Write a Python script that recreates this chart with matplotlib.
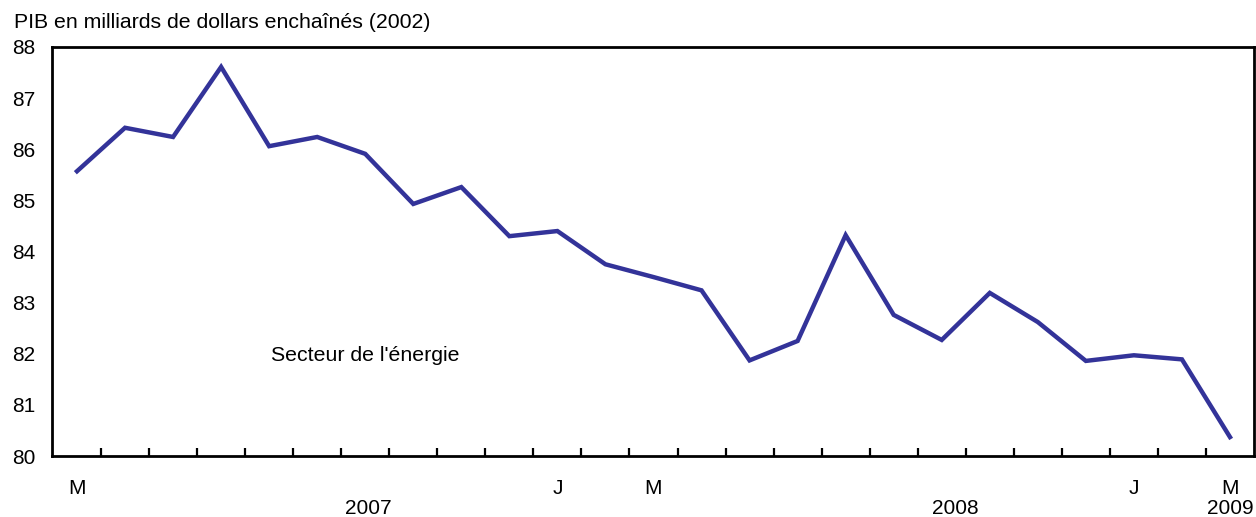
import matplotlib
matplotlib.use("Agg")
import matplotlib.pyplot as plt
import numpy as np

plt.rcParams['font.family'] = ['Liberation Sans', 'DejaVu Sans']

values = [85.57, 86.42, 86.24, 87.61, 86.06, 86.24, 85.91, 84.93, 85.26, 84.30,
          84.40, 83.75, 83.50, 83.24, 81.87, 82.25, 84.32, 82.76, 82.27, 83.19,
          82.62, 81.86, 81.97, 81.89, 80.37]
month_labels = {0: 'M', 10: 'J', 12: 'M', 22: 'J', 24: 'M'}
year_labels = {6.06: '2007', 18.28: '2008', 24.0: '2009'}
y_ticks = [80, 81, 82, 83, 84, 85, 86, 87, 88]
ylabel = "PIB en milliards de dollars enchaînés (2002)"
series_label = "Secteur de l'énergie"

FS = 15

fig = plt.figure(figsize=(12.56, 5.17), dpi=100)
ax = fig.add_axes([52/1256, 1-456/517, (1254-52)/1256, (456-47)/517])

x = np.arange(len(values))
ax.plot(x, values, color='#333399', lw=3.2, solid_joinstyle='miter')
ax.set_xlim(-0.52, 24.5)
ax.set_ylim(80, 88)

for s in ax.spines.values():
    s.set_linewidth(2.0)
    s.set_color('black')

ax.set_yticks(y_ticks)
ax.set_yticklabels([str(v) for v in y_ticks], fontsize=FS)
ax.tick_params(axis='y', length=0, pad=12)
ax.set_xticks(np.arange(0.5, 24, 1))
ax.set_xticklabels([])
ax.tick_params(axis='x', direction='in', length=5.5, width=1.6)

for i, lab in month_labels.items():
    ax.text(i, -0.093, lab, transform=ax.get_xaxis_transform(), ha='center', va='baseline', fontsize=FS)
for i, lab in year_labels.items():
    ax.text(i, -0.142, lab, transform=ax.get_xaxis_transform(), ha='center', va='baseline', fontsize=FS)

fig.text(14/1256, 1-22/517, ylabel, ha='left', va='center', fontsize=15.3)
ax.text(6.0, 81.97, series_label, ha='center', va='center', fontsize=15.3)

fig.savefig('out.png', dpi=100)
